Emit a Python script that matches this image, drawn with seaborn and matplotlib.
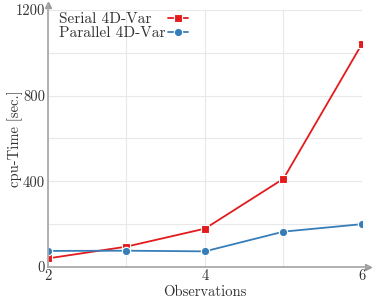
import matplotlib
matplotlib.use("Agg")
import matplotlib.pyplot as plt
import seaborn as sns
import pandas as pd

observations = [2, 3, 4, 5, 6]
serial_time = [40, 95, 179, 412, 1042]
parallel_time = [75, 76, 73, 165, 200]
series_names = ["Serial 4D-Var", "Parallel 4D-Var"]

df = pd.DataFrame({
    "obs": observations * 2,
    "time": serial_time + parallel_time,
    "method": [series_names[0]] * 5 + [series_names[1]] * 5,
})

sns.set_style("whitegrid")
plt.rcParams["font.family"] = "serif"
plt.rcParams["font.serif"] = ["cmr10", "DejaVu Serif"]
plt.rcParams["axes.formatter.use_mathtext"] = True

fig, ax = plt.subplots(figsize=(3.74, 3.01), dpi=100)
fig.subplots_adjust(left=0.128, right=0.968, top=0.967, bottom=0.113)

sns.lineplot(data=df, x="obs", y="time", hue="method", style="method",
             markers={series_names[0]: "s", series_names[1]: "o"},
             dashes=False, palette=["#e41a1c", "#377eb8"],
             markersize=6, markeredgecolor="white", markeredgewidth=0.8,
             linewidth=1.3, ax=ax)

ax.set_xlim(2, 6)
ax.set_ylim(0, 1200)
ax.set_xticks([2, 3, 4, 5, 6])
ax.set_xticklabels(["2", "", "4", "", "6"])
ax.set_yticks([0, 200, 400, 600, 800, 1000, 1200])
ax.set_yticklabels(["0", "", "400", "", "800", "", "1200"])
ax.grid(True, color="#e8e8e8", linewidth=0.8)
ax.tick_params(axis="both", length=0, pad=2, labelsize=10.5, labelcolor="#333333")

for s in ["top", "right"]:
    ax.spines[s].set_visible(False)
for s in ["left", "bottom"]:
    ax.spines[s].set_visible(True)
    ax.spines[s].set_color("#aaaaaa")
    ax.spines[s].set_linewidth(1.3)
ax.plot(1.02, 0, ">", color="#999999", markersize=5, transform=ax.transAxes, clip_on=False)
ax.plot(0, 1.02, "^", color="#999999", markersize=5, transform=ax.transAxes, clip_on=False)
ax.spines["bottom"].set_bounds(2, 6.08)
ax.spines["left"].set_bounds(0, 1224)

ax.set_xlabel("Observations", fontsize=10.5, labelpad=1, color="#333333")
ax.set_ylabel("cpu-Time [sec.]", fontsize=10.5, color="#333333")
ax.yaxis.set_label_coords(-0.08, 0.5)

leg = ax.legend(loc="upper left", frameon=False, markerfirst=False, fontsize=11,
                handlelength=1.3, borderaxespad=0.0, labelspacing=0.05,
                handletextpad=0.2, bbox_to_anchor=(0.015, 1.015), labelcolor="#333333")

# pgfplots style: labels left aligned, handles lined up on the right
fig.canvas.draw()
renderer = fig.canvas.get_renderer()
for col in leg._legend_handle_box.get_children():
    col.align = "left"
    rows = col.get_children()
    w = max(r.get_bbox(renderer).width for r in rows)
    for r in rows:
        r.mode = "expand"
        r.width = w

fig.savefig("out.png", dpi=100)
